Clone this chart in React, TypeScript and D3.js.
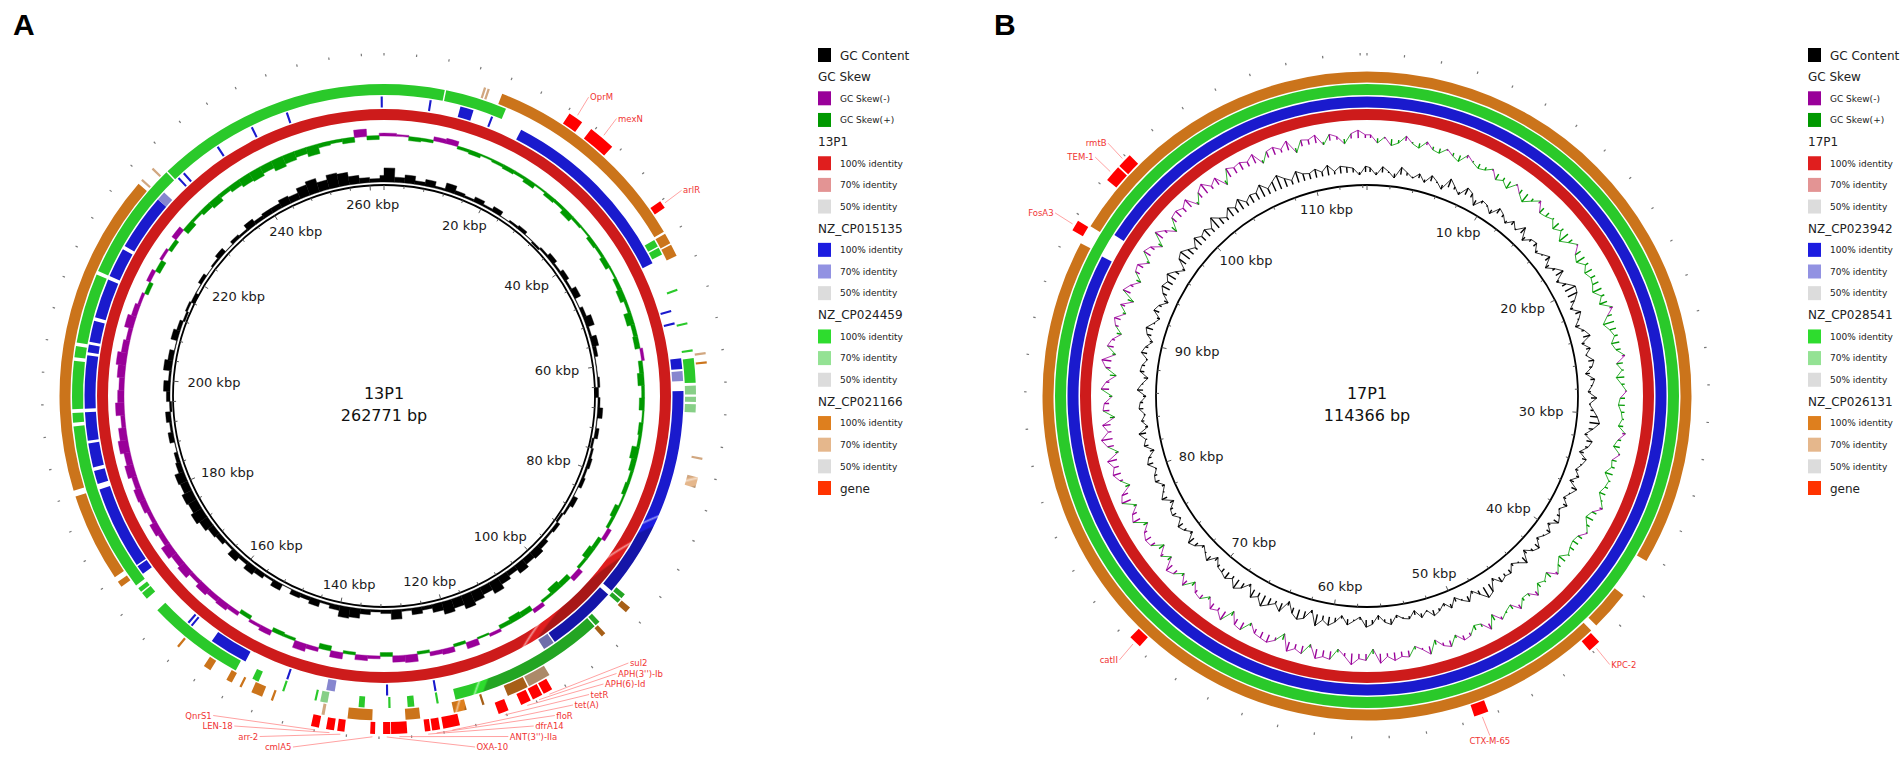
import React, { useRef, useEffect } from 'react';
import * as d3 from 'd3';

type Hit = [number, number, number]; // start kbp, end kbp, identity %
interface Gene { name: string; start: number; end: number; }

const W = 1902;
const H = 760;

// genome sizes (bp)
const lengthA = 262771;
const lengthB = 114366;

// GC content / GC skew, one value per window (deviation, arbitrary units)
const gcWindowA = 2000;
const gcContentA = [
  9, 3, 5, 2, 4, 1, 5, 2, 1, 3,
  1, 3, 0, 1, 2, 0, -1, 1, 3, 1,
  3, 1, 4, 0, 2, 5, 1, 4, 2, 0,
  0, 1, -2, 1, 3, 0, 2, -1, 1, 2,
  1, 2, 0, 3, 1, -1, 2, 1, 3, 5,
  4, 6, 3, 5, 8, 5, 7, 9, 6, 8,
  5, 2, 4, 1, 6, 2, 1, 3, 6, 7,
  3, 1, 4, 2, 3, 0, 4, 1, 3, 5,
  2, 5, 1, 3, 4, 6, 8, 6, 7, 5,
  6, 3, 2, 0, 3, 1, 3, -1, 2, 4,
  1, 5, 3, 0, 4, 2, -1, 1, -2, 0,
  2, 0, 1, 3, 0, 2, 1, 4, 2, 3,
  3, 5, 4, 7, 9, 6, 9, 8, 5, 3, 2, 4,
];
const gcSkewA = [
  -2, -1, 3, 2, -3, -4, 2, 3, 1, 2,
  3, 2, 4, 1, 3, 2, 5, 2, 1, 3,
  2, 4, 1, 3, 5, 2, 6, 3, 4, -2,
  3, 5, 2, 4, 1, 3, 2, 6, 4, 2,
  3, 1, 4, 2, -3, 3, 5, 2, -4, 4,
  6, 2, -3, 4, 5, 3, -2, 1, -5, 2,
  -4, -3, 2, -6, -5, 3, -2, -4, 2, -5,
  4, -3, -6, 2, 3, -4, -2, 3, -3, -5,
  -4, -6, -3, -7, -5, -8, -4, -6, -3, -5,
  -6, -4, -7, -5, -8, -6, -3, -7, -5, -4,
  -6, -8, -5, -3, -7, -4, -2, 3, -3, 4,
  -2, 3, -4, 5, 2, 4, 6, 3, 5, 7,
  8, 6, 9, 7, 5, 8, 3, 2, 4, -6, 3, -2,
];

const gcWindowB = 500;
const gcContentB = [
  3, -2, 4, 1, -3, 5, 2, -1, 3, -2,
  4, 1, -3, 6, 2, -2, 5, 3, -4, 2,
  1, -3, 4, 2, -2, 3, -1, 5, -3, 2,
  3, -2, 1, 4, -3, 2, 6, -2, 3, 8,
  7, 3, -2, 4, 1, -3, 2, 5, -2, 3,
  -1, 4, 2, -3, 3, 1, -2, 4, -1, 2,
  5, 7, 3, -2, 4, 2, -3, 3, 1, -2,
  2, -3, 4, 1, -2, 3, -1, 2, 4, -2,
  3, 1, -2, 4, 2, -3, 5, 1, -2, 3,
  2, 4, -2, 6, 8, 3, -2, 4, 1, -3,
  3, -2, 2, 4, -1, 3, -3, 2, 1, -2,
  4, 2, -3, 3, 5, -2, 1, 4, -2, 3,
  6, 3, 8, -2, 5, 7, 4, -3, 6, 2,
  5, 8, 3, 6, -2, 4, 7, 2, 5, 3,
  2, -3, 4, 1, -2, 3, 5, -2, 2, 4,
  -1, 3, 2, -3, 4, 1, -2, 3, 2, -1,
  4, 2, -3, 3, 1, 5, -2, 2, -1, 3,
  2, -2, 4, 1, -3, 3, 2, -1, 4, 2,
  -2, 3, 5, 1, -2, 4, 2, -3, 3, 6,
  4, 7, 3, -2, 6, 8, 5, 2, 7, 4,
  6, 3, 9, 5, 2, 7, 4, 8, 3, 6,
  5, 9, 4, 7, 10, 6, 3, 8, 5, 4,
  6, 3, 7, 2, 5, 4, 3, -2, 4,
];
const gcSkewB = [
  -2, 3, -1, 4, 2, -3, 1, 3, -2, 2,
  3, -1, 2, 4, -2, 1, 3, 2, -1, 4,
  2, 5, -1, 3, 6, 2, -2, 4, 3, 1,
  5, 2, 7, 3, -1, 4, 6, 2, 5, 3,
  4, 6, 2, 5, -2, 3, 7, 4, 2, 5,
  3, -2, 4, 1, 5, 2, -1, 3, 4, 2,
  1, 3, -2, 2, 4, -1, 3, 2, 5, 1,
  2, 4, 1, -2, 3, 5, 2, -1, 3, 4,
  3, 1, 5, 2, -2, 4, 1, 3, -3, 2,
  2, -3, 3, 1, -2, 4, -4, 2, 3, -2,
  -3, 2, -4, -2, 3, -5, -1, 2, -4, -3,
  -5, -2, -6, 3, -4, -3, -7, -2, 2, -5,
  -4, -6, 2, -5, -3, -6, 4, -2, -5, -4,
  -3, 2, -5, -4, 3, -6, -2, -4, 2, -3,
  -2, 3, -4, 2, -3, -5, 3, -2, 4, -3,
  -4, -2, 3, -5, -3, 2, -6, -4, 3, -2,
  -5, -3, -6, 2, -4, -7, -2, -5, 3, -4,
  -3, 2, -5, -2, 4, -3, -6, 2, -4, -2,
  3, -2, -4, 2, -3, 4, -5, -2, 3, -3,
  -4, 2, -5, -3, 3, -6, -2, 4, -4, -5,
  -3, -6, 2, -4, -7, -2, -5, 3, -6, -4,
  -5, -3, -6, 2, -4, -5, -2, -6, 3, -4,
  -3, -5, 2, -4, -2, 3, -3, -5, -2,
];

// BLAST hits per ring (kbp)
const hits13P1: Hit[] = [[0, 262.771, 100]];
const hitsCP015135: Hit[] = [
  [6.4, 6.7, 100], [10.8, 12.7, 100], [15.3, 15.6, 100], [19.9, 46.5, 100],
  [53.5, 53.8, 100], [55.3, 55.6, 100], [60.4, 61.9, 100], [62.2, 63.6, 70],
  [65.0, 95.3, 100], [96.0, 106.0, 100], [106.2, 107.8, 70], [124.0, 124.3, 100],
  [130.8, 131.1, 100], [138.3, 139.5, 70], [145.0, 145.3, 100], [151.5, 157.0, 100],
  [160.4, 160.7, 100], [161.0, 161.3, 100], [170.5, 171.8, 100], [172.0, 183.8, 100],
  [184.6, 186.5, 100], [187.0, 190.4, 100], [190.8, 194.8, 100], [195.3, 202.8, 100],
  [203.2, 204.3, 100], [204.7, 207.7, 100], [208.2, 213.8, 100], [214.3, 218.5, 100],
  [219.0, 227.0, 100], [227.0, 228.3, 70], [231.0, 231.3, 100], [232.0, 232.3, 100],
  [238.0, 238.3, 100], [243.5, 243.8, 100], [248.8, 249.1, 100], [262.3, 262.6, 100],
];
const hitsCP024459: Hit[] = [
  [0, 8.2, 100], [8.4, 16.8, 100], [43.8, 44.8, 100], [45.0, 46.0, 100],
  [51.0, 51.3, 100], [55.7, 56.0, 100], [59.4, 59.7, 100], [60.6, 63.9, 100],
  [64.3, 65.5, 70], [65.8, 66.5, 70], [66.8, 67.9, 70], [94.5, 95.2, 100],
  [95.4, 96.0, 100], [99.5, 100.2, 100], [100.4, 121.7, 100], [124.0, 124.3, 100],
  [127.3, 128.2, 100], [130.5, 130.8, 100], [134.0, 134.8, 100], [139.0, 140.0, 70],
  [140.5, 140.8, 100], [145.0, 145.3, 100], [148.7, 149.6, 100], [152.1, 165.4, 100],
  [167.5, 168.5, 100], [168.7, 169.3, 100], [169.8, 193.0, 100], [193.5, 194.8, 100],
  [195.3, 201.8, 100], [202.3, 203.8, 100], [204.3, 213.8, 100], [214.3, 230.5, 100],
  [230.7, 262.771, 100],
];
const hitsCP021166: Hit[] = [
  [13.1, 13.4, 70], [13.6, 13.9, 70], [15.6, 43.5, 100], [43.8, 45.2, 100],
  [45.4, 47.0, 100], [60.0, 60.3, 70], [61.2, 61.5, 100], [73.7, 74.0, 70],
  [76.3, 77.7, 70], [95.4, 96.2, 100], [100.0, 100.6, 100], [109.0, 112.0, 70],
  [112.2, 115.0, 100], [118.2, 118.5, 100], [120.6, 122.3, 100], [126.7, 128.6, 100],
  [132.9, 136.1, 100], [139.1, 139.5, 70], [146.0, 146.3, 100], [147.5, 149.0, 100],
  [150.4, 150.7, 100], [151.8, 152.6, 100], [155.0, 156.0, 100], [160.0, 160.3, 100],
  [170.8, 171.6, 100], [172.3, 183.9, 100], [184.7, 226.9, 100], [227.4, 227.7, 70],
  [229.4, 229.7, 70],
];

const hits17P1: Hit[] = [[0, 114.366, 100]];
const hitsCP023942: Hit[] = [[0, 94.6, 100], [96.1, 114.366, 100]];
const hitsCP028541: Hit[] = [[0, 114.366, 100]];
const hitsCP026131: Hit[] = [[0, 38.3, 100], [40.6, 42.9, 100], [43.3, 94.7, 100], [95.8, 114.366, 100]];

const genesA: Gene[] = [
  { name: 'OprM', start: 24.3, end: 26.2 },
  { name: 'mexN', start: 27.6, end: 31.0 },
  { name: 'arlR', start: 40.0, end: 41.0 },
  { name: 'sul2', start: 109.6, end: 110.8 },
  { name: "APH(3'')-Ib", start: 111.0, end: 112.3 },
  { name: 'APH(6)-Id', start: 112.6, end: 113.9 },
  { name: 'tetR', start: 115.6, end: 116.9 },
  { name: 'tet(A)', start: 121.9, end: 124.0 },
  { name: 'floR', start: 124.4, end: 125.4 },
  { name: 'dfrA14', start: 125.6, end: 126.3 },
  { name: "ANT(3'')-IIa", start: 128.5, end: 130.5 },
  { name: 'OXA-10', start: 130.6, end: 131.5 },
  { name: 'cmlA5', start: 132.5, end: 133.1 },
  { name: 'arr-2', start: 136.3, end: 137.2 },
  { name: 'LEN-18', start: 137.6, end: 138.6 },
  { name: 'QnrS1', start: 139.5, end: 140.5 },
];
const genesB: Gene[] = [
  { name: 'KPC-2', start: 43.4, end: 44.1 },
  { name: 'CTX-M-65', start: 50.5, end: 51.3 },
  { name: 'catII', start: 70.6, end: 71.3 },
  { name: 'FosA3', start: 95.1, end: 95.7 },
  { name: 'TEM-1', start: 98.4, end: 99.3 },
  { name: 'rmtB', start: 99.4, end: 100.2 },
];

const genomesA = ['13P1', 'NZ_CP015135', 'NZ_CP024459', 'NZ_CP021166'];
const genomesB = ['17P1', 'NZ_CP023942', 'NZ_CP028541', 'NZ_CP026131'];
const identityLabels = ['100% identity', '70% identity', '50% identity'];

// ring colours: [100%, 70%, 50%]
const ringColors = [
  ['#e01e1e', '#e39494', '#dcdcdc'],
  ['#1c1ce0', '#9292e2', '#dcdcdc'],
  ['#2edc2e', '#94e294', '#dcdcdc'],
  ['#de7f1e', '#e5b78c', '#dcdcdc'],
];
const gcColor = '#000000';
const skewNegColor = '#990099';
const skewPosColor = '#009900';
const geneColor = '#ff0000';
const geneLegendColor = '#ff3300';

const FONT = '"DejaVu Sans", Verdana, sans-serif';
const R_INNER = 211;
const RING_R: [number, number][] = [[276, 287], [288.5, 299.5], [301, 312], [313.5, 324.5]];
const GENE_R: [number, number] = [326, 338];
const LABEL_R = 363;
const LINE_R = 341;

interface PanelCfg {
  id: string;
  cx: number;
  cy: number;
  length: number;
  title: string;
  gcWindow: number;
  gcContent: number[];
  gcSkew: number[];
  spikes: boolean;
  gcBase: number;
  gcK: number;
  skewBase: number;
  skewK: number;
  rings: Hit[][];
  genes: Gene[];
  majorStep: number;
  minorStep: number;
}

type Sel = d3.Selection<SVGGElement, unknown, null, undefined>;
type DefsSel = d3.Selection<SVGDefsElement, unknown, null, undefined>;

function ringGradient(defs: DefsSel, id: string, p: PanelCfg, r0: number, r1: number, color: string) {
  const t = (f: number) => (r0 + f * (r1 - r0)) / r1;
  const dark = d3.color(color)!.darker(0.8).formatHex();
  const edge = d3.color(color)!.darker(0.25).formatHex();
  const light = d3.interpolateRgb(color, '#ffffff')(0.5);
  const grad = defs.append('radialGradient')
    .attr('id', id)
    .attr('gradientUnits', 'userSpaceOnUse')
    .attr('cx', p.cx).attr('cy', p.cy).attr('fx', p.cx).attr('fy', p.cy)
    .attr('r', r1);
  const stops: [number, string][] = [
    [t(0), dark], [t(0.18), color], [t(0.58), color], [t(0.76), light], [t(0.9), color], [t(1), edge],
  ];
  stops.forEach(([o, c]) => grad.append('stop').attr('offset', o).attr('stop-color', c));
}

function drawPanel(root: Sel, defs: DefsSel, p: PanelCfg) {
  const angle = d3.scaleLinear().domain([0, p.length]).range([0, 2 * Math.PI]);
  const kb = (v: number) => angle(v * 1000);
  const g = root.append('g').attr('transform', `translate(${p.cx},${p.cy})`);
  const arc = d3.arc<{ a0: number; a1: number; r0: number; r1: number }>()
    .startAngle(d => d.a0).endAngle(d => d.a1)
    .innerRadius(d => d.r0).outerRadius(d => d.r1);
  const px = (r: number, a: number) => r * Math.sin(a);
  const py = (r: number, a: number) => -r * Math.cos(a);

  const gcR = d3.scaleLinear().domain([0, 1]).range([p.gcBase, p.gcBase + p.gcK]);
  const skewR = d3.scaleLinear().domain([0, 1]).range([p.skewBase, p.skewBase - p.skewK]);
  const winEnd = (i: number) => Math.min((i + 1) * p.gcWindow, p.length);
  const skewCol = (v: number) => (v >= 0 ? skewPosColor : skewNegColor);

  if (!p.spikes) {
    // blocky windows (large plasmid)
    g.append('g').selectAll('path').data(p.gcContent).join('path')
      .attr('d', (v, i) => arc({ a0: angle(i * p.gcWindow), a1: angle(winEnd(i)), r0: Math.min(gcR(0), gcR(v)), r1: Math.max(gcR(0), gcR(v)) + 0.6 }))
      .attr('fill', gcColor).attr('stroke', gcColor).attr('stroke-width', 0.4);
    g.append('g').selectAll('path').data(p.gcSkew).join('path')
      .attr('d', (v, i) => arc({ a0: angle(i * p.gcWindow), a1: angle(winEnd(i)), r0: Math.min(skewR(0), skewR(v)), r1: Math.max(skewR(0), skewR(v)) + 0.6 }))
      .attr('fill', skewCol).attr('stroke', skewCol).attr('stroke-width', 0.4);
  } else {
    // fine windows drawn as thin spikes joined at the tips
    const mid = (i: number) => angle(Math.min((i + 0.5) * p.gcWindow, p.length));
    const n = p.gcContent.length;
    g.append('g').selectAll('line').data(p.gcContent).join('line')
      .attr('x1', (v, i) => px(gcR(0), mid(i))).attr('y1', (v, i) => py(gcR(0), mid(i)))
      .attr('x2', (v, i) => px(gcR(v), mid(i))).attr('y2', (v, i) => py(gcR(v), mid(i)))
      .attr('stroke', gcColor).attr('stroke-width', 1.4);
    g.append('g').selectAll('line').data(p.gcContent).join('line')
      .attr('x1', (v, i) => px(gcR(v), mid(i))).attr('y1', (v, i) => py(gcR(v), mid(i)))
      .attr('x2', (v, i) => px(gcR(p.gcContent[(i + 1) % n]), mid((i + 1) % n)))
      .attr('y2', (v, i) => py(gcR(p.gcContent[(i + 1) % n]), mid((i + 1) % n)))
      .attr('stroke', gcColor).attr('stroke-width', 0.8);
    const m = p.gcSkew.length;
    g.append('g').selectAll('line').data(p.gcSkew).join('line')
      .attr('x1', (v, i) => px(skewR(0), mid(i))).attr('y1', (v, i) => py(skewR(0), mid(i)))
      .attr('x2', (v, i) => px(skewR(v), mid(i))).attr('y2', (v, i) => py(skewR(v), mid(i)))
      .attr('stroke', skewCol).attr('stroke-width', 1.4);
    g.append('g').selectAll('line').data(p.gcSkew).join('line')
      .attr('x1', (v, i) => px(skewR(v), mid(i))).attr('y1', (v, i) => py(skewR(v), mid(i)))
      .attr('x2', (v, i) => px(skewR(p.gcSkew[(i + 1) % m]), mid((i + 1) % m)))
      .attr('y2', (v, i) => py(skewR(p.gcSkew[(i + 1) % m]), mid((i + 1) % m)))
      .attr('stroke', skewCol).attr('stroke-width', 0.8);
  }

  // BLAST identity rings
  p.rings.forEach((hits, k) => {
    const [r0, r1] = RING_R[k];
    const id100 = `${p.id}-ring${k}-100`;
    const id70 = `${p.id}-ring${k}-70`;
    ringGradient(defs, id100, p, r0, r1, ringColors[k][0]);
    ringGradient(defs, id70, p, r0, r1, ringColors[k][1]);
    g.append('g').selectAll('path').data(hits).join('path')
      .attr('d', h => arc({ a0: kb(h[0]), a1: kb(h[1]), r0, r1 }))
      .attr('fill', h => `url(#${h[2] >= 100 ? id100 : id70})`);
  });

  // genes
  g.append('g').selectAll('path').data(p.genes).join('path')
    .attr('d', d => arc({ a0: kb(d.start), a1: kb(d.end), r0: GENE_R[0], r1: GENE_R[1] }))
    .attr('fill', geneColor);

  // outer tick marks
  const outerTicks = d3.range(0, p.length, p.minorStep);
  g.append('g').selectAll('line').data(outerTicks).join('line')
    .attr('x1', t => px(340.5, angle(t))).attr('y1', t => py(340.5, angle(t)))
    .attr('x2', t => px(343, angle(t))).attr('y2', t => py(343, angle(t)))
    .attr('stroke', '#777').attr('stroke-width', 1.2);

  // backbone circle and ticks
  g.append('circle').attr('r', R_INNER).attr('fill', 'none').attr('stroke', '#000').attr('stroke-width', 1.8);
  const minor = d3.range(0, p.length, p.minorStep);
  g.append('g').selectAll('line').data(minor).join('line')
    .attr('x1', t => px(R_INNER, angle(t))).attr('y1', t => py(R_INNER, angle(t)))
    .attr('x2', t => px(R_INNER - (t % p.majorStep === 0 ? 5 : 3), angle(t)))
    .attr('y2', t => py(R_INNER - (t % p.majorStep === 0 ? 5 : 3), angle(t)))
    .attr('stroke', '#555').attr('stroke-width', 1);

  const major = d3.range(p.majorStep, p.length, p.majorStep);
  const lbl = g.append('g').attr('font-family', FONT).attr('font-size', 13).attr('fill', '#1a1a1a');
  major.forEach(t => {
    const a = angle(t);
    const txt = lbl.append('text').attr('text-anchor', 'middle').text(`${t / 1000} kbp`);
    const w = (txt.node() as SVGTextElement).getComputedTextLength();
    const x = px(197, a) - Math.sin(a) * w / 2;
    const y = py(197, a) + Math.cos(a) * 4.8;
    txt.attr('x', x).attr('y', y + 4.7);
  });

  // centre title
  const ttl = g.append('g').attr('font-family', FONT).attr('font-size', 16).attr('fill', '#111').attr('text-anchor', 'middle');
  ttl.append('text').attr('x', 0).attr('y', 3).text(p.title);
  ttl.append('text').attr('x', 0).attr('y', 25).text(`${p.length} bp`);

  // gene labels with simple collision layout
  type Lab = { g: Gene; a: number; side: number; nat: number; y: number };
  const labs: Lab[] = p.genes.map(gn => {
    const a = kb((gn.start + gn.end) / 2);
    const nat = py(LABEL_R, a);
    return { g: gn, a, side: Math.sin(a) >= 0 ? 1 : -1, nat, y: nat };
  });
  const gap = 10.5;
  const yMax = 351;
  [1, -1].forEach(side => {
    const grp = labs.filter(l => l.side === side).sort((u, v) => u.nat - v.nat);
    for (let i = 1; i < grp.length; i++) grp[i].y = Math.max(grp[i].y, grp[i - 1].y + gap);
    for (let i = grp.length - 1; i >= 0; i--) {
      const lim = i === grp.length - 1 ? yMax : grp[i + 1].y - gap;
      grp[i].y = Math.min(grp[i].y, lim);
    }
  });
  const gl = g.append('g').attr('font-family', FONT).attr('font-size', 8.5);
  labs.forEach(l => {
    const dx = Math.sqrt(Math.max(0, LABEL_R * LABEL_R - l.y * l.y));
    const moved = Math.abs(l.y - l.nat) > 0.5;
    let anchor = l.side > 0 ? 'start' : 'end';
    let x = l.side * dx;
    let ty = l.y + 3;
    let lx = x - l.side * 1.5;
    let ly = l.y;
    if (!moved && Math.abs(Math.sin(l.a)) < 0.4) {
      anchor = 'middle';
      x = px(LABEL_R, l.a);
      const down = Math.cos(l.a) < 0;
      ty = down ? l.y + 6 : l.y;
      lx = x;
      ly = down ? l.y - 2 : l.y + 2;
    }
    gl.append('line')
      .attr('x1', lx).attr('y1', ly)
      .attr('x2', px(LINE_R, l.a)).attr('y2', py(LINE_R, l.a))
      .attr('stroke', '#ff7a7a').attr('stroke-width', 0.7);
    gl.append('text').attr('x', x).attr('y', ty).attr('text-anchor', anchor)
      .attr('fill', '#f03434').text(l.g.name);
  });
}

function drawLegend(root: Sel, x: number, genomes: string[]) {
  type Row = { text: string; swatch?: string; big: boolean };
  const rows: Row[] = [
    { text: 'GC Content', swatch: gcColor, big: true },
    { text: 'GC Skew', big: true },
    { text: 'GC Skew(-)', swatch: skewNegColor, big: false },
    { text: 'GC Skew(+)', swatch: skewPosColor, big: false },
  ];
  genomes.forEach((name, k) => {
    rows.push({ text: name, big: true });
    identityLabels.forEach((lab, j) => rows.push({ text: lab, swatch: ringColors[k][j], big: false }));
  });
  rows.push({ text: 'gene', swatch: geneLegendColor, big: true });
  const yPos = d3.scaleLinear().domain([0, rows.length - 1]).range([55, 488]);
  const lg = root.append('g').attr('font-family', FONT).attr('fill', '#222');
  rows.forEach((r, i) => {
    const y = yPos(i);
    if (r.swatch) {
      lg.append('rect').attr('x', x).attr('y', y - 7).attr('width', 13).attr('height', 14).attr('fill', r.swatch);
    }
    lg.append('text')
      .attr('x', r.swatch ? x + 22 : x)
      .attr('y', y + (r.big ? 4.5 : 3.3))
      .attr('font-size', r.big ? 12 : 9)
      .text(r.text);
  });
}

export default function App() {
  const svgRef = useRef<SVGSVGElement>(null);

  useEffect(() => {
    if (!svgRef.current) return;
    const svg = d3.select(svgRef.current);
    svg.selectAll('*').remove();
    const defs = svg.append('defs') as unknown as DefsSel;
    const root = svg.append('g') as unknown as Sel;

    root.append('rect').attr('width', W).attr('height', H).attr('fill', '#fff');

    drawPanel(root, defs, {
      id: 'a', cx: 384, cy: 396, length: lengthA, title: '13P1',
      gcWindow: gcWindowA, gcContent: gcContentA, gcSkew: gcSkewA, spikes: false,
      gcBase: 214, gcK: 1.5, skewBase: 260, skewK: 1.15,
      rings: [hits13P1, hitsCP015135, hitsCP024459, hitsCP021166],
      genes: genesA, majorStep: 20000, minorStep: 4000,
    });
    drawPanel(root, defs, {
      id: 'b', cx: 1367, cy: 396, length: lengthB, title: '17P1',
      gcWindow: gcWindowB, gcContent: gcContentB, gcSkew: gcSkewB, spikes: true,
      gcBase: 224, gcK: 1.45, skewBase: 258, skewK: 1.6,
      rings: [hits17P1, hitsCP023942, hitsCP028541, hitsCP026131],
      genes: genesB, majorStep: 10000, minorStep: 2000,
    });

    drawLegend(root, 818, genomesA);
    drawLegend(root, 1808, genomesB);

    const letters = root.append('g').attr('font-family', '"Liberation Sans", Arial, sans-serif')
      .attr('font-weight', 'bold').attr('font-size', 30).attr('fill', '#000');
    letters.append('text').attr('x', 13).attr('y', 35).text('A');
    letters.append('text').attr('x', 994).attr('y', 35).text('B');
  }, []);

  return (
    <div style={{ position: 'absolute', left: 0, top: 0, width: W, height: H, background: '#fff' }}>
      <svg ref={svgRef} width={W} height={H} style={{ display: 'block' }} />
    </div>
  );
}
